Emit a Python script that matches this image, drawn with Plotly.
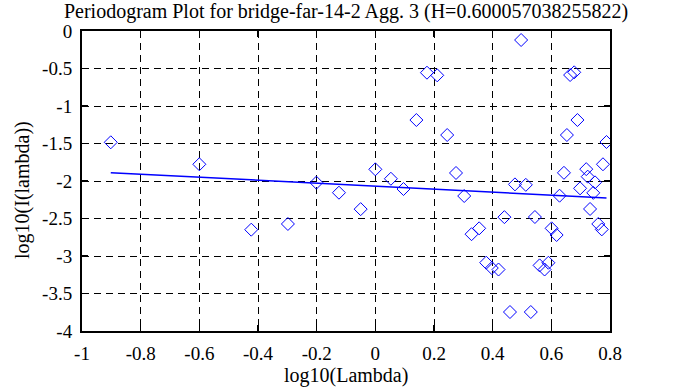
import plotly.graph_objects as go

# Periodogram points: log10(lambda) vs log10(I(lambda))
log_lambda = [-0.902, -0.600, -0.423, -0.298, -0.201, -0.124, -0.050, 0.000, 0.053, 0.096,
              0.140, 0.176, 0.211, 0.245, 0.275, 0.303, 0.328, 0.354, 0.378, 0.397,
              0.420, 0.440, 0.459, 0.476, 0.497, 0.513, 0.530, 0.544, 0.560, 0.577,
              0.590, 0.601, 0.618, 0.628, 0.643, 0.653, 0.664, 0.678, 0.689, 0.698,
              0.719, 0.724, 0.732, 0.743, 0.749, 0.760, 0.772, 0.776, 0.788]
log_I = [-1.484, -1.777, -2.649, -2.573, -2.022, -2.156, -2.375, -1.844, -1.970, -2.107,
         -1.187, -0.556, -0.591, -1.387, -1.893, -2.200, -2.709, -2.631, -3.089, -3.160,
         -3.180, -2.482, -3.747, -2.045, -0.120, -2.051, -3.747, -2.480, -3.125, -3.180,
         -3.090, -2.631, -2.720, -2.196, -1.891, -1.387, -0.587, -0.551, -1.187, -2.098,
         -1.842, -1.942, -2.373, -2.158, -2.018, -2.573, -2.645, -1.777, -1.480]

# Least-squares fit line endpoints
fit_x = [-0.902, 0.788]
fit_y = [-1.889, -2.227]

x_ticks = [-1, -0.8, -0.6, -0.4, -0.2, 0, 0.2, 0.4, 0.6, 0.8]
x_tick_labels = ["-1", "-0.8", "-0.6", "-0.4", "-0.2", "0", "0.2", "0.4", "0.6", "0.8"]
y_ticks = [0, -0.5, -1, -1.5, -2, -2.5, -3, -3.5, -4]
y_tick_labels = ["0", "-0.5", "-1", "-1.5", "-2", "-2.5", "-3", "-3.5", "-4"]

title_text = "Periodogram Plot for bridge-far-14-2 Agg. 3 (H=0.600057038255822)"

FONT = "Liberation Serif, Times New Roman, DejaVu Serif, serif"
FS_TICK = 19
FS_LABEL = 20
W, H = 678, 387
L, R, T, B = 82, 68, 31, 56
PH = H - T - B
PW = W - L - R

fig = go.Figure()
fig.add_trace(go.Scatter(
    x=log_lambda, y=log_I, mode="markers",
    marker=dict(symbol="diamond-open", size=10, color="#0000ff", line=dict(width=1, color="#0000ff")),
    showlegend=False, hoverinfo="skip"))
fig.add_trace(go.Scatter(
    x=fit_x, y=fit_y, mode="lines",
    line=dict(color="#0000ff", width=1.5), showlegend=False, hoverinfo="skip"))

axis_common = dict(
    showline=True, linecolor="black", linewidth=2, mirror="ticks",
    ticks="inside", ticklen=6, tickwidth=1.5, tickcolor="black",
    showgrid=True, gridcolor="black", gridwidth=1, griddash="7px,5px",
    zeroline=False, tickfont=dict(family=FONT, size=FS_TICK, color="black"),
    layer="above traces", automargin=False,
)

fig.update_layout(
    template="none",
    width=W, height=H,
    margin=dict(l=L, r=R, t=T, b=B, pad=0, autoexpand=False),
    paper_bgcolor="white", plot_bgcolor="white",
    font=dict(family=FONT, size=FS_TICK, color="black"),
    xaxis=dict(range=[-1, 0.8], tickmode="array", tickvals=x_ticks, ticktext=x_tick_labels,
               ticklabelstandoff=4, **axis_common),
    yaxis=dict(range=[-4, 0], tickmode="array", tickvals=y_ticks, ticktext=y_tick_labels,
               ticklabelstandoff=4, **axis_common),
    title=dict(text=title_text, x=(L + PW / 2) / W, xanchor="center",
               y=1 - 11 / H, yanchor="middle", font=dict(family=FONT, size=FS_LABEL, color="black")),
    annotations=[
        dict(text="log10(Lambda)", xref="paper", yref="paper", x=0.5, y=-(375 - (T + PH)) / PH,
             xanchor="center", yanchor="middle", showarrow=False,
             font=dict(family=FONT, size=FS_LABEL, color="black")),
        dict(text="log10(I(lambda))", xref="paper", yref="paper", x=(22 - L) / PW,
             y=1 - (190 - T) / PH,
             xanchor="center", yanchor="middle", textangle=-90, showarrow=False,
             font=dict(family=FONT, size=FS_LABEL, color="black")),
    ],
)

fig.write_html("out.html", config={"displayModeBar": False, "staticPlot": True},
               post_script="document.body.style.margin='0px';")
